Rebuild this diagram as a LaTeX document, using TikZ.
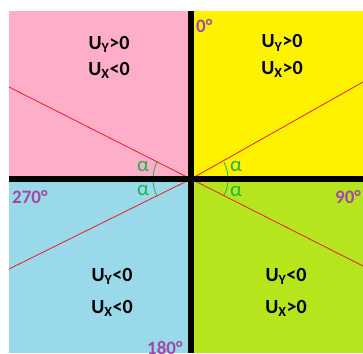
\documentclass[tikz,border=0pt]{standalone}
\usepackage{fontspec}
\setmainfont{Carlito}
\usepackage{xcolor}
\usetikzlibrary{calc, positioning}

\definecolor{qpink}{HTML}{FFAEC9}
\definecolor{qyellow}{HTML}{FFF200}
\definecolor{qblue}{HTML}{99D9EA}
\definecolor{qlime}{HTML}{B5E61D}
\definecolor{lred}{HTML}{ED1C24}
\definecolor{agreen}{HTML}{22B14C}
\definecolor{dpurple}{HTML}{A349A4}

\tikzset{
    sign/.style={anchor=base, inner sep=0pt, font=\fontsize{20pt}{24pt}\selectfont\bfseries},
    deg/.style={anchor=base west, inner sep=0pt, text=dpurple, font=\fontsize{19pt}{22pt}\selectfont\bfseries},
    alpha/.style={inner sep=0pt, text=agreen, font=\fontsize{21pt}{24pt}\selectfont},
}

\begin{document}
\begin{tikzpicture}[x=1pt, y=-1pt]

    % =================================================================
    % 1. KHUNG VÀ TỌA ĐỘ CHÍNH
    % =================================================================
    \useasboundingbox (0,0) rectangle (363,353);
    \clip (0,0) rectangle (363,353);
    \fill[white] (0,0) rectangle (363,353);

    \coordinate (O) at (191,179);
    \coordinate (TopEnd) at (191,11);
    \coordinate (BottomEnd) at (191,353);
    \coordinate (LeftEnd) at (9,179);
    \coordinate (RightEnd) at (363,179);

    % Đầu mút các đường đỏ
    \coordinate (P1) at (9,87);
    \coordinate (P2) at (363,82);
    \coordinate (P3) at (363,266);
    \coordinate (P4) at (9,269);

    % =================================================================
    % 2. TÔ MÀU BỐN GÓC PHẦN TƯ
    % =================================================================
    \fill[qpink] (9,11) rectangle (O);
    \fill[qyellow] (O) rectangle (363,11);
    \fill[qblue] (9,353) rectangle (O);
    \fill[qlime] (O) rectangle (363,353);

    % =================================================================
    % 3. ĐƯỜNG ĐỎ VÀ CUNG GÓC
    % =================================================================
    \draw[lred, line width=0.8pt] (O) -- (P1);
    \draw[lred, line width=0.8pt] (O) -- (P2);
    \draw[lred, line width=0.8pt] (O) -- (P3);
    \draw[lred, line width=0.8pt] (O) -- (P4);

    \draw[agreen, line width=0.8pt] ($(O)+(-27:37)$) arc (-27:27:37);
    \draw[agreen, line width=0.8pt] ($(O)+(153:38)$) arc (153:207:38);

    % =================================================================
    % 4. HAI TRỤC ĐEN
    % =================================================================
    \draw[line width=6pt] (LeftEnd) -- (RightEnd);
    \draw[line width=6pt] (TopEnd) -- (BottomEnd);

    % =================================================================
    % 5. NHÃN
    % =================================================================
    \node[sign] (uy1) at (109,49) {U\textsubscript{Y}>0};
    \node[sign] (ux1) at (109,75) {U\textsubscript{X}<0};
    \node[sign] (uy2) at (282,48) {U\textsubscript{Y}>0};
    \node[sign] (ux2) at (282,74) {U\textsubscript{X}>0};
    \node[sign] (uy3) at (112,281) {U\textsubscript{Y}<0};
    \node[sign] (ux3) at (112,313) {U\textsubscript{X}<0};
    \node[sign] (uy4) at (286,281) {U\textsubscript{Y}<0};
    \node[sign] (ux4) at (286,313) {U\textsubscript{X}>0};

    \node[deg] (d0) at (196,33) {0°};
    \node[deg] (d90) at (335,203) {90°};
    \node[deg] (d180) at (147,354) {180°};
    \node[deg] (d270) at (12,203) {270°};

    \node[alpha] (a1) at (143,166) {α};
    \node[alpha] (a2) at (143,190) {α};
    \node[alpha] (a3) at (236,166) {α};
    \node[alpha] (a4) at (236,191) {α};

\end{tikzpicture}
\end{document}
